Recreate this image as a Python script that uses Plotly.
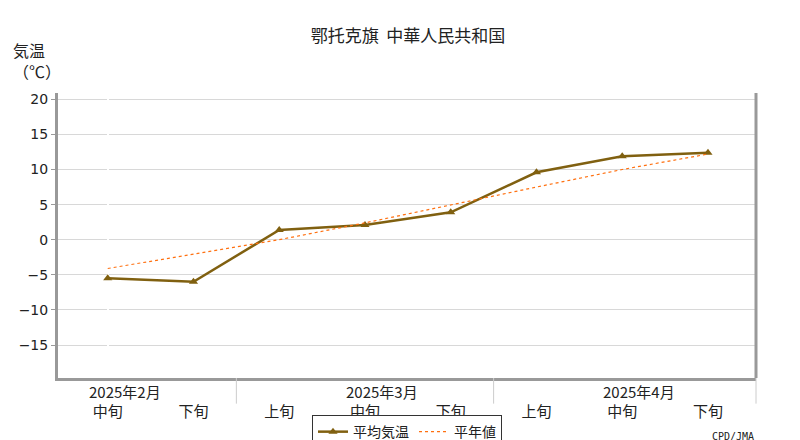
import plotly.graph_objects as go

cats = ["中旬", "下旬", "上旬", "中旬", "下旬", "上旬", "中旬", "下旬"]
months = ["2025年2月", "2025年3月", "2025年4月"]
month_pos = [0.2, 3.2, 6.2]
mean_temp = [-5.5, -6.0, 1.4, 2.1, 3.9, 9.6, 11.9, 12.4]
normal = [-4.1, -2.0, 0.0, 2.4, 5.0, 7.5, 10.0, 12.2]
yticks = [-15, -10, -5, 0, 5, 10, 15, 20]

x = list(range(len(cats)))
fig = go.Figure()
fig.add_trace(go.Scatter(x=x, y=mean_temp, name="平均気温", mode="lines+markers",
                         line=dict(color="#806010", width=2.5),
                         marker=dict(symbol="triangle-up", size=8, color="#806010")))
fig.add_trace(go.Scatter(x=x, y=normal, name="平年値", mode="lines",
                         line=dict(color="#ff7010", width=1.2, dash="dot")))
font = "Noto Sans CJK JP"
fig.update_layout(
    width=800, height=440, margin=dict(l=50, r=52, t=85, b=70, autoexpand=False),
    plot_bgcolor="white", paper_bgcolor="white",
    font=dict(family=font, size=13, color="#222"),
    title=dict(text="鄂托克旗  中華人民共和国", x=0.5, y=0.95, xanchor="center", font=dict(size=17)),
    showlegend=True,
    legend=dict(orientation="h", x=0.5, xanchor="center", y=-0.13, yanchor="top",
                bordercolor="#333", borderwidth=1, font=dict(size=14)),
    xaxis=dict(range=[-0.58, 7.56], tickvals=x, ticktext=cats, showgrid=False,
               showline=True, linecolor="#999", linewidth=3, mirror=False, automargin=False,
               ticks="", tickfont=dict(size=15), ticklabelstandoff=18),
    yaxis=dict(range=[-19.7, 20.9], tickvals=yticks, showgrid=True, gridcolor="#d8d8d8",
               zeroline=False, showline=True, linecolor="#999", linewidth=3, automargin=False,
               ticks="outside", ticklen=4, tickcolor="#999",
               tickfont=dict(size=14, family="DejaVu Sans", color="#222")),
)
fig.add_shape(type="line", xref="paper", yref="paper", x0=1, x1=1, y0=0, y1=1,
              line=dict(color="#999", width=3))
for xs in [1.5, 4.5]:
    fig.add_shape(type="line", xref="x", yref="paper", x0=xs, x1=xs, y0=0, y1=-0.09,
                  line=dict(color="#ccc", width=1))
fig.add_shape(type="line", xref="paper", yref="paper", x0=1, x1=1, y0=0, y1=-0.09,
              line=dict(color="#ccc", width=1))
for m, p in zip(months, month_pos):
    fig.add_annotation(text=m, x=p, xref="x", y=-0.005, yref="paper", yanchor="top",
                       showarrow=False, font=dict(size=15))
fig.add_annotation(text="気温<br>（℃）", x=-0.068, xref="paper", y=1.2, yref="paper",
                   xanchor="left", yanchor="top", showarrow=False, align="left",
                   font=dict(size=16))
fig.add_annotation(text="CPD/JMA", x=1.0, xref="paper", y=-0.18, yref="paper",
                   xanchor="right", yanchor="top", showarrow=False,
                   font=dict(size=10, family="DejaVu Sans Mono"))
fig.write_html("out.html")
